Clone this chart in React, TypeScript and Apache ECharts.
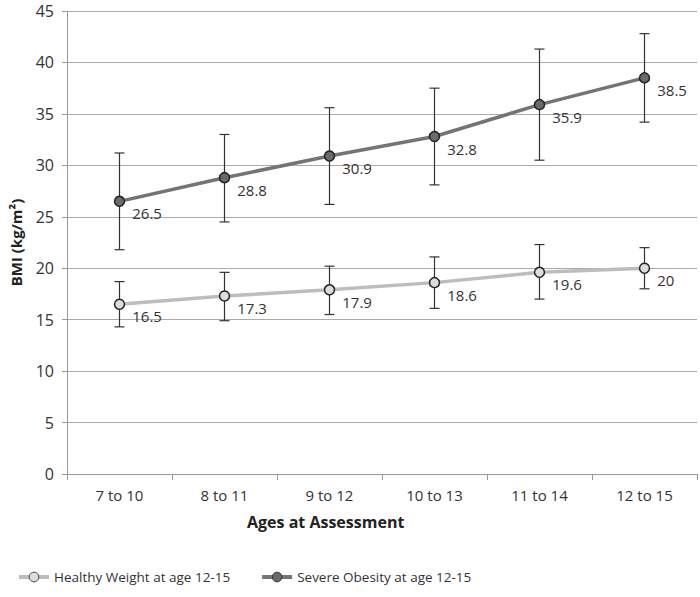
import React, { useEffect, useRef } from "react";
import * as echarts from "echarts";

const categories = ["7 to 10", "8 to 11", "9 to 12", "10 to 13", "11 to 14", "12 to 15"];
const healthy = [16.5, 17.3, 17.9, 18.6, 19.6, 20];
const healthyLow = [14.3, 14.9, 15.5, 16.1, 17.0, 18.0];
const healthyHigh = [18.7, 19.6, 20.2, 21.1, 22.3, 22.0];
const severe = [26.5, 28.8, 30.9, 32.8, 35.9, 38.5];
const severeLow = [21.8, 24.5, 26.2, 28.1, 30.5, 34.2];
const severeHigh = [31.2, 33.0, 35.6, 37.5, 41.3, 42.8];
const yTicks = { min: 0, max: 45, interval: 5 };

const FONT = "'Open Sans', 'Liberation Sans', sans-serif";
const HEALTHY_LINE = "#bdbdbd";
const SEVERE_LINE = "#747474";

function errorSeries(name: string, low: number[], high: number[]) {
  return {
    type: "custom",
    name: name + " error",
    z: 1,
    silent: true,
    data: categories.map((_, i) => [i, low[i], high[i]]),
    renderItem: (params: any, api: any) => {
      const x = api.value(0);
      const lo = api.coord([x, api.value(1)]);
      const hi = api.coord([x, api.value(2)]);
      const hw = 5;
      const style = { stroke: "#333", lineWidth: 1.2 };
      return {
        type: "group",
        children: [
          { type: "line", shape: { x1: lo[0], y1: lo[1], x2: hi[0], y2: hi[1] }, style },
          { type: "line", shape: { x1: lo[0] - hw, y1: lo[1], x2: lo[0] + hw, y2: lo[1] }, style },
          { type: "line", shape: { x1: hi[0] - hw, y1: hi[1], x2: hi[0] + hw, y2: hi[1] }, style },
        ],
      };
    },
  };
}

export default function App() {
  const ref = useRef<HTMLDivElement>(null);
  useEffect(() => {
    if (!ref.current) return;
    const chart = echarts.init(ref.current, undefined, { renderer: "svg" });
    const labelCfg = {
      show: true,
      position: "right",
      offset: [2, 12],
      color: "#333",
      fontSize: 15,
      fontFamily: FONT,
    };
    chart.setOption({
      animation: false,
      textStyle: { fontFamily: FONT },
      grid: { left: 66, right: 3, top: 11, bottom: 123, containLabel: false },
      graphic: [
        {
          type: "text",
          left: 247,
          top: 514,
          style: { text: "Ages at Assessment", fontSize: 16, fontWeight: "bold", fill: "#222", fontFamily: FONT },
        },
      ],
      legend: {
        left: 12,
        top: 565,
        itemWidth: 30,
        itemHeight: 12,
        itemGap: 30,
        textStyle: { color: "#333", fontSize: 13.5, fontFamily: FONT },
        data: [
          {
            name: "Healthy Weight at age 12-15",
            lineStyle: { color: HEALTHY_LINE, width: 4 },
            itemStyle: { color: "#dcdcdc", borderColor: "#444", borderWidth: 1 },
          },
          {
            name: "Severe Obesity at age 12-15",
            lineStyle: { color: SEVERE_LINE, width: 4 },
            itemStyle: { color: "#6a6a6a", borderColor: "#333", borderWidth: 1 },
          },
        ],
      },
      xAxis: {
        type: "category",
        data: categories,
        boundaryGap: true,
        axisLine: { lineStyle: { color: "#999", width: 1 } },
        axisTick: { show: true, length: 6, lineStyle: { color: "#999" } },
        axisLabel: { color: "#333", fontSize: 15, margin: 13, fontFamily: FONT },
      },
      yAxis: {
        type: "value",
        min: yTicks.min,
        max: yTicks.max,
        interval: yTicks.interval,
        name: "BMI (kg/m²)",
        nameLocation: "middle",
        nameGap: 44,
        nameTextStyle: { fontSize: 15, fontWeight: "bold", color: "#222", fontFamily: FONT },
        axisLine: { show: true, lineStyle: { color: "#999", width: 1 } },
        axisTick: { show: true, length: 5, lineStyle: { color: "#999" } },
        axisLabel: { color: "#333", fontSize: 16, margin: 13, fontFamily: FONT },
        splitLine: { lineStyle: { color: "#aaa", width: 1 } },
      },
      series: [
        errorSeries("Healthy", healthyLow, healthyHigh),
        errorSeries("Severe", severeLow, severeHigh),
        {
          type: "line",
          name: "Healthy Weight at age 12-15",
          data: healthy,
          z: 3,
          symbol: "circle",
          symbolSize: 10,
          lineStyle: { color: HEALTHY_LINE, width: 3.5 },
          itemStyle: { color: "#dcdcdc", borderColor: "#222", borderWidth: 1.5 },
          label: labelCfg,
        },
        {
          type: "line",
          name: "Severe Obesity at age 12-15",
          data: severe,
          z: 3,
          symbol: "circle",
          symbolSize: 10,
          lineStyle: { color: SEVERE_LINE, width: 3.5 },
          itemStyle: { color: "#6a6a6a", borderColor: "#222", borderWidth: 1.5 },
          label: labelCfg,
        },
      ],
    });
    return () => chart.dispose();
  }, []);
  return <div ref={ref} style={{ width: 700, height: 597, position: "absolute", left: 0, top: 0 }} />;
}
